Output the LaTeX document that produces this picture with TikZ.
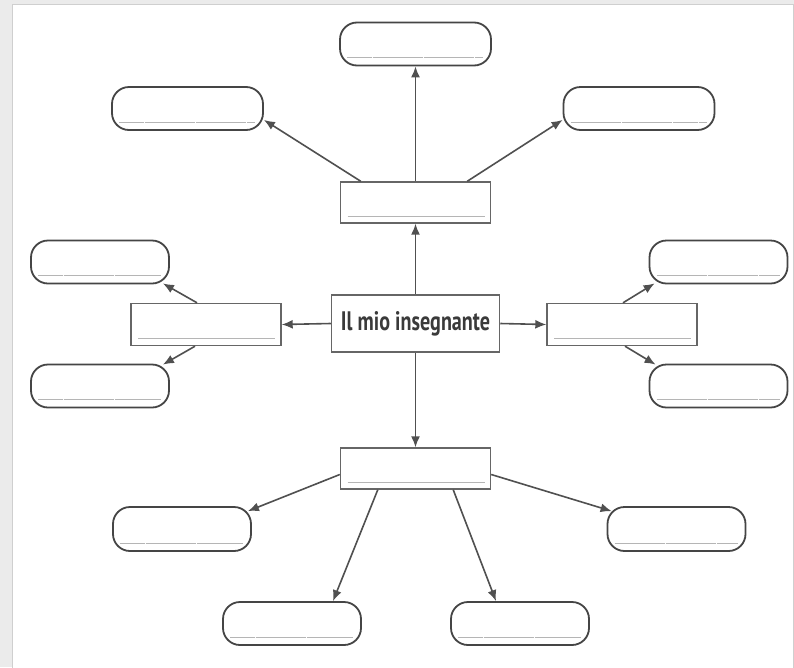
\documentclass[tikz,border=0pt]{standalone}
\usepackage{fontspec}
\newfontfamily\labelfont{PT Sans}
\usetikzlibrary{arrows.meta,calc}
\definecolor{bgc}{HTML}{EBEBEB}
\definecolor{panelc}{HTML}{CFCFCF}
\definecolor{rectc}{HTML}{666666}
\definecolor{pillc}{HTML}{454545}
\definecolor{arrc}{HTML}{505050}
\definecolor{linec}{HTML}{B5B5B5}
\definecolor{txtc}{HTML}{3A3A3A}
\tikzset{
  writeline/.style={draw=linec,line width=1pt},
  rectbox/.style={draw=rectc,line width=1.4pt,fill=white,inner sep=0pt,
    minimum width=150pt,minimum height=41pt,
    path picture={\draw[writeline] ([xshift=7pt,yshift=7pt]path picture bounding box.south west) -- ([xshift=-6pt,yshift=7pt]path picture bounding box.south east);}},
  pillbox/.style={draw=pillc,line width=1.8pt,fill=white,inner sep=0pt,rounded corners=17pt,
    minimum width=138pt,minimum height=43pt,
    path picture={\draw[writeline,dash pattern=on 25pt off 0.6pt] ([xshift=7pt,yshift=8pt]path picture bounding box.south west) -- ([xshift=-8pt,yshift=8pt]path picture bounding box.south east);}},
  widepill/.style={pillbox,minimum width=151pt},
  centerbox/.style={draw=rectc,line width=1.5pt,fill=white,inner sep=0pt,
    minimum width=168pt,minimum height=57pt,text=txtc},
  conn/.style={draw=arrc,line width=1.6pt,-{Latex[length=11pt,width=9pt]}}
}
\begin{document}
\begin{tikzpicture}[x=1pt,y=-1pt]
\useasboundingbox (0,0) rectangle (794,667);
\fill[bgc] (0,0) rectangle (794,667);
\filldraw[fill=white,draw=panelc,line width=0.8pt] (12,4) rectangle (793,670);

% nodes
\node[widepill] (tp) at (415.5,44) {};
\node[widepill] (tl) at (187.5,108.5) {};
\node[widepill] (tq) at (639,108.5) {};
\node[rectbox] (tr) at (415.5,202.5) {};
\node[centerbox] (c) at (415.5,323.5) {\resizebox{149pt}{19pt}{\labelfont\bfseries Il mio insegnante}};
\node[rectbox,minimum height=42pt] (lr) at (206,324.5) {};
\node[rectbox,minimum height=42pt] (rr) at (622,324.5) {};
\node[pillbox] (lu) at (100,262) {};
\node[pillbox] (ld) at (100,386) {};
\node[pillbox] (ru) at (718.5,262) {};
\node[pillbox] (rd) at (718.5,386) {};
\node[rectbox] (br) at (415.5,468.5) {};
\node[pillbox,minimum height=44pt] (bl) at (182,529) {};
\node[pillbox] (bml) at (292,623.5) {};
\node[pillbox] (bmr) at (520,623.5) {};
\node[pillbox,minimum height=44pt] (bR) at (676.5,529) {};

% connectors from the centre
\draw[conn] (c.north) -- (tr.south);
\draw[conn] (c.west) -- (lr.east);
\draw[conn] (c.east) -- (rr.west);
\draw[conn] (c.south) -- (br.north);

% top group
\draw[conn] (tr.north) -- (tp.south);
\draw[conn] ([xshift=21pt]tr.north west) -- ([xshift=0pt,yshift=11pt]tl.south east);
\draw[conn] ([xshift=-24pt]tr.north east) -- ([xshift=0pt,yshift=11pt]tq.south west);

% left group
\draw[conn] ([xshift=-9pt]lr.north) -- ([xshift=-7pt,yshift=1pt]lu.south east);
\draw[conn] ([xshift=-11pt]lr.south) -- ([xshift=-7pt,yshift=-1pt]ld.north east);

% right group
\draw[conn] ([xshift=1pt]rr.north) -- ([xshift=6pt,yshift=1pt]ru.south west);
\draw[conn] ([xshift=3pt]rr.south) -- ([xshift=7pt,yshift=-1pt]rd.north west);

% bottom group
\draw[conn] ([yshift=-6pt]br.west) -- ([xshift=-4pt,yshift=-5pt]bl.north east);
\draw[conn] ([yshift=-6pt]br.east) -- ([xshift=5pt,yshift=-5pt]bR.north west);
\draw[conn] ([xshift=38pt]br.south west) -- ([xshift=41pt]bml.north);
\draw[conn] ([xshift=-38pt]br.south east) -- ([xshift=-24pt]bmr.north);
\end{tikzpicture}
\end{document}
